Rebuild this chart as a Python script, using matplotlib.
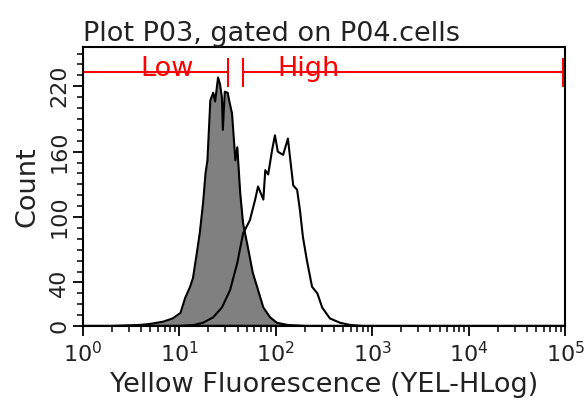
import numpy as np
import matplotlib
matplotlib.use("Agg")
import matplotlib.pyplot as plt
from matplotlib.ticker import FixedLocator, LogLocator, NullFormatter

# histogram: positions in decades (log10 of fluorescence), counts
gray_pos = [0.30, 0.59, 0.70, 0.83, 0.93, 1.01, 1.06, 1.11, 1.14, 1.18, 1.21, 1.245, 1.27,
            1.29, 1.32, 1.35, 1.37, 1.40, 1.42, 1.44, 1.45, 1.47, 1.50, 1.52, 1.545, 1.58,
            1.60, 1.63, 1.66, 1.71, 1.76, 1.815, 1.87, 1.94, 2.01, 2.12, 2.30]
gray_cnt = [0, 1, 2, 4, 7, 12, 26, 36, 44, 67, 85, 113, 140,
            152, 207, 214, 206, 228, 222, 210, 180, 215, 214, 205, 195, 152,
            164, 122, 94, 72, 49, 33, 17, 8, 3, 1, 0]

open_pos = [1.00, 1.15, 1.245, 1.35, 1.44, 1.525, 1.60, 1.66, 1.73, 1.785, 1.815, 1.87,
            1.89, 1.92, 1.96, 1.99, 2.02, 2.075, 2.125, 2.15, 2.18, 2.22, 2.25, 2.28,
            2.32, 2.375, 2.43, 2.48, 2.56, 2.665, 2.77, 2.90]
open_cnt = [0, 1, 3, 8, 17, 33, 58, 85, 97, 116, 128, 116,
            143, 139, 161, 175, 160, 157, 172, 152, 129, 125, 106, 82,
            61, 36, 30, 17, 7, 3, 1, 0]

# gates (decades) and labels
gate_names = ["Low", "High"]
gate_lo = [0.0, 1.66]
gate_hi = [1.504, 4.98]
gate_text_pos = [0.87, 2.34]
gate_level = 233

ytick_vals = [0, 40, 100, 160, 220]

fig = plt.figure(figsize=(5.85, 4.05), dpi=100)
ax = fig.add_axes([0.142, 0.195, 0.824, 0.689])

gx = 10 ** np.array(gray_pos)
ox = 10 ** np.array(open_pos)
ax.fill_between(gx, gray_cnt, 0, color="#808080", lw=0)
ax.plot(gx, gray_cnt, color="black", lw=1.5)
ax.plot(ox, open_cnt, color="black", lw=1.5)
ax.axhline(0, color="black", lw=2.5, zorder=5)

for name, lo, hi, tp in zip(gate_names, gate_lo, gate_hi, gate_text_pos):
    ax.plot([10 ** lo, 10 ** hi], [gate_level, gate_level], color="red", lw=1.5, clip_on=False)
    for e in (lo, hi):
        ax.plot([10 ** e, 10 ** e], [gate_level - 13, gate_level + 12], color="red", lw=1.5)
    ax.text(10 ** tp, gate_level + 3, name, color="red", fontsize=19.5, ha="center", va="center")

ax.set_xscale("log")
ax.set_xlim(1, 1e5)
ax.set_ylim(0, 256)

ax.xaxis.set_major_locator(LogLocator(base=10, numticks=10))
ax.xaxis.set_minor_locator(LogLocator(base=10, subs=np.arange(2, 10), numticks=20))
ax.xaxis.set_minor_formatter(NullFormatter())

ax.yaxis.set_major_locator(FixedLocator(ytick_vals))
ax.yaxis.set_minor_locator(FixedLocator(np.arange(0, 251, 10)))
ax.set_yticklabels([str(v) for v in ytick_vals], rotation=90, va="center")

ax.tick_params(axis="both", which="major", direction="out", length=7, width=1.3,
               labelsize=16, top=False, right=False, labelcolor="#222222")
ax.tick_params(axis="both", which="minor", direction="out", length=4, width=1.1,
               top=False, right=False)
ax.tick_params(axis="x", pad=4)
ax.tick_params(axis="y", pad=3)

for s in ax.spines.values():
    s.set_linewidth(1.5)
    s.set_color("black")

ax.set_xlabel("Yellow Fluorescence (YEL-HLog)", fontsize=19.5, labelpad=4, color="#222222")
ax.set_ylabel("Count", fontsize=19.5, labelpad=6, color="#222222")
ax.set_title("Plot P03, gated on P04.cells", fontsize=19.5, loc="left", pad=3, color="#222222")

fig.savefig("out.png", dpi=100)
